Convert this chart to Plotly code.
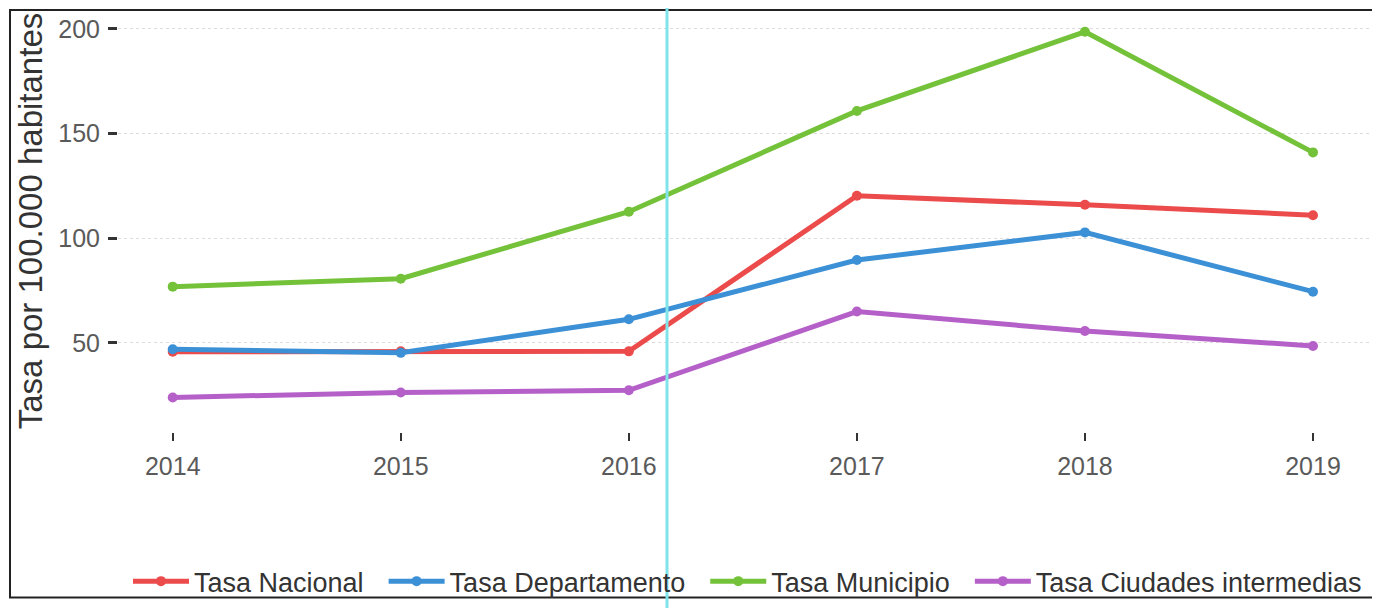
import plotly.graph_objects as go

years = [2014, 2015, 2016, 2017, 2018, 2019]
series_names = ["Tasa Nacional", "Tasa Departamento", "Tasa Municipio", "Tasa Ciudades intermedias"]
tasa_nacional = [45.8, 46.0, 46.0, 120.3, 116.0, 111.0]
tasa_departamento = [47.0, 45.3, 61.3, 89.6, 102.8, 74.5]
tasa_municipio = [76.9, 80.7, 112.7, 160.8, 198.6, 141.0]
tasa_ciudades = [24.0, 26.4, 27.4, 65.0, 55.7, 48.6]
y_ticks = [50, 100, 150, 200]

colors = ["#EC4B4B", "#3B90D6", "#74C23A", "#B560C8"]
values = [tasa_nacional, tasa_departamento, tasa_municipio, tasa_ciudades]

fig = go.Figure()
n = len(series_names)
for i, (name, vals, c) in enumerate(zip(series_names, values, colors)):
    # non-breaking spaces widen the gap between legend entries
    label = name + ("\u00a0\u00a0" if i < n - 1 else "")
    fig.add_trace(go.Scatter(
        x=years, y=vals, name=label, mode="lines+markers",
        line=dict(color=c, width=5),
        marker=dict(color=c, size=10),
    ))

# page has an 8px body margin; figure coordinates = page coordinates - 8
OFF = 8
W, H = 1372, 600
ml, mr, mt, mb = 110, 10, 2, 172
pw, ph = W - ml - mr, H - mt - mb

def px_x(p):
    return (p - OFF - ml) / pw

def px_y(p):
    return (H - mb - (p - OFF)) / ph

fig.update_layout(
    width=W, height=H,
    margin=dict(l=ml, r=mr, t=mt, b=mb),
    paper_bgcolor="white", plot_bgcolor="white",
    font=dict(family="Liberation Sans, Arial, sans-serif", color="#555555"),
    showlegend=True,
    legend=dict(
        orientation="h", x=px_x(1367), xanchor="right", y=px_y(587), yanchor="middle",
        font=dict(size=27, color="#333333"), itemwidth=56, bgcolor="rgba(0,0,0,0)",
    ),
    xaxis=dict(
        range=[2013.76, 2019.25], tickmode="array", tickvals=years,
        ticktext=[str(y) for y in years], showgrid=False, zeroline=False,
        showline=False, ticks="outside", ticklen=8, tickwidth=2, tickcolor="#333333",
        tickfont=dict(size=25, color="#5a5a5a"), ticklabelstandoff=4,
    ),
    yaxis=dict(
        range=[7.5, 209], tickmode="array", tickvals=y_ticks,
        ticktext=[str(v) for v in y_ticks], showgrid=True, gridcolor="#dcdcdc",
        griddash="dot", gridwidth=1, zeroline=False, showline=False,
        ticks="outside", ticklen=9, tickwidth=3, tickcolor="#333333",
        tickfont=dict(size=25, color="#5a5a5a"), ticklabelstandoff=3,
        title=dict(text="Tasa por 100.000 habitantes", font=dict(size=33, color="#333333"), standoff=5),
    ),
    shapes=[
        dict(type="rect", xref="paper", yref="paper",
             x0=px_x(10), x1=px_x(1375), y0=px_y(603), y1=px_y(10),
             line=dict(color="#222222", width=2), fillcolor="rgba(0,0,0,0)", layer="above"),
        dict(type="line", xref="paper", yref="paper",
             x0=px_x(667), x1=px_x(667), y0=px_y(620), y1=px_y(0),
             line=dict(color="#80E4EA", width=3), layer="above"),
    ],
)

fig.write_html("out.html")
